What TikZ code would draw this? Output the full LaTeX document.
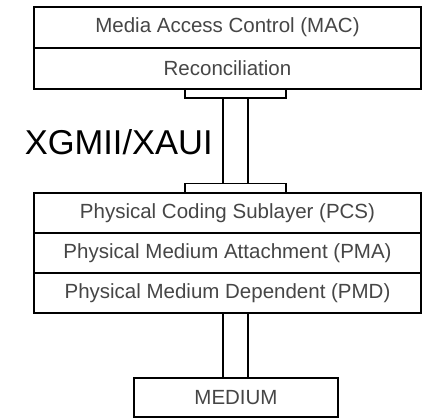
\documentclass[tikz,border=0pt]{standalone}
\usepackage{fontspec}
\setmainfont{Liberation Sans}
\usetikzlibrary{positioning}
\definecolor{textgray}{RGB}{70,70,70}

\begin{document}
\begin{tikzpicture}[x=1pt,y=-1pt,node distance=0pt,line width=1.5pt]
		\tikzstyle{layer}=[draw=black,fill=white,minimum width=387pt,minimum height=41pt,
		                   inner sep=0pt,outer sep=0pt,text=textgray,font=\fontsize{20.5}{24}\selectfont]
		\tikzstyle{plate}=[draw=black,fill=white,minimum width=101pt,minimum height=9pt,inner sep=0pt,outer sep=0pt]

		\useasboundingbox (0,0) rectangle (425,419);

		\node[layer]				(mac)	at (227.5,27.5)	{Media Access Control (MAC)};
		\node[layer,below=of mac]		(rec)			{Reconciliation};
		\node[plate]				(recplate) at (235.5,93.5)	{};

		\node[layer,minimum height=40pt]	(pcs)	at (227.5,213)	{Physical Coding Sublayer (PCS)};
		\node[layer,minimum height=40pt,below=of pcs]	(pma)	{Physical Medium Attachment (PMA)};
		\node[layer,minimum height=40pt,below=of pma]	(pmd)	{Physical Medium Dependent (PMD)};
		\node[plate]				(pcsplate) at (235.5,188)	{};

		\node[layer,minimum width=204pt,minimum height=39pt]	(medium) at (236,397.5)	{MEDIUM};

		\node[anchor=base west,inner sep=0pt,font=\fontsize{34.5}{40}\selectfont]	(xgmii) at (24,155)	{XGMII/XAUI};

		% stems between the layers
		\draw[fill=white] ([xshift=-12.5pt]recplate.south) rectangle ([xshift=12.5pt]pcsplate.north);
		\draw[fill=white] ([xshift=-13pt]medium.north) rectangle ([xshift=12pt]medium.north |- pmd.south);
		\draw[line width=2.6pt] (pcs.south west) -- (pcs.south east);
\end{tikzpicture}
\end{document}
